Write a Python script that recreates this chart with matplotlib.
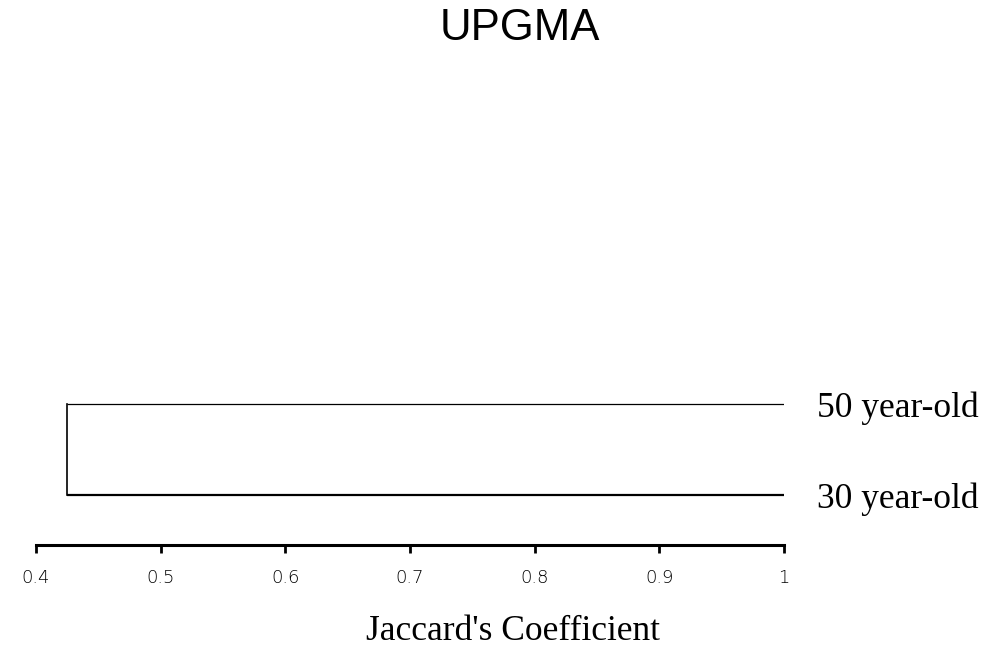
import matplotlib
matplotlib.use("Agg")
import matplotlib.pyplot as plt

# two-sample UPGMA tree on Jaccard similarity
leaf_names = ["30 year-old", "50 year-old"]
leaf_pos = [1, 2]
merge_height = 0.425
x_ticks = [0.4, 0.5, 0.6, 0.7, 0.8, 0.9, 1.0]
x_tick_labels = ["0.4", "0.5", "0.6", "0.7", "0.8", "0.9", "1"]

fig = plt.figure(figsize=(9.89, 6.54), dpi=100)
ax = fig.add_axes([36 / 989, 1 - 545 / 654, (784 - 36) / 989, 465 / 654])

# branches: each leaf runs from similarity 1 back to the merge point
ax.plot([merge_height, 1.0], [leaf_pos[0], leaf_pos[0]], color="black", lw=1.6, solid_capstyle="butt")
ax.plot([merge_height, 1.0], [leaf_pos[1], leaf_pos[1]], color="black", lw=0.9, solid_capstyle="butt")
ax.plot([merge_height, merge_height], [leaf_pos[0], leaf_pos[1]], color="black", lw=1.2)

ax.set_xlim(0.4, 1.0)
ax.set_ylim(1 - 50 / 91, 1 - 50 / 91 + 465 / 91)

for s in ["top", "left", "right"]:
    ax.spines[s].set_visible(False)
ax.spines["bottom"].set_linewidth(2.2)

ax.set_xticks(x_ticks)
ax.set_xticklabels(x_tick_labels, fontsize=13, family="DejaVu Sans", fontweight="light")
ax.tick_params(axis="x", length=5.5, width=2, pad=12, color="black")

ax.yaxis.tick_right()
ax.set_yticks(leaf_pos)
ax.set_yticklabels(leaf_names, family="Liberation Serif", fontsize=25.5)
ax.tick_params(axis="y", length=0, pad=24)

fig.text(513 / 989, 1 - 632 / 654, "Jaccard's Coefficient", family="Liberation Serif",
         fontsize=25.5, ha="center", va="center")

fig.text(520 / 989, 1 - 28 / 654, "UPGMA", family="Liberation Sans", fontsize=31.5,
         ha="center", va="center")

fig.savefig("out.png", dpi=100)
